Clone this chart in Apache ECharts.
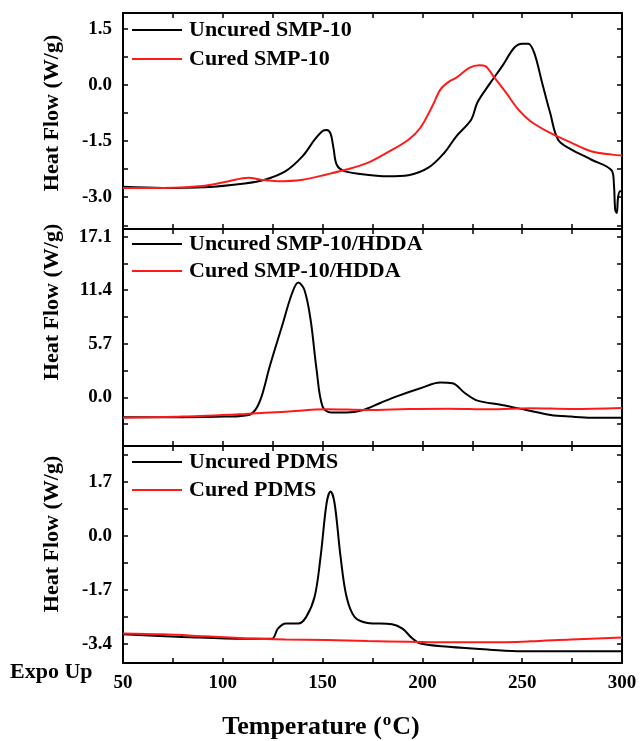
<!DOCTYPE html>
<html>
<head>
<meta charset="utf-8">
<script src="https://cdn.jsdelivr.net/npm/echarts@6/dist/echarts.min.js"></script>
<style>
  html, body { margin: 0; padding: 0; background: #fff; }
  #chart { width: 640px; height: 741px; }
</style>
</head>
<body>
<div id="chart"></div>
<script>
// DSC curves, [temperature (C), heat flow (W/g)]
var uncuredSmp = [[50,-2.72],[70,-2.75],[91,-2.73],[111,-2.63],[121,-2.53],[131.5,-2.3],[140,-1.9],[146,-1.46],[150,-1.23],[152,-1.2],[154,-1.3],[155.5,-1.7],[157,-2.12],[160,-2.28],[168,-2.37],[183,-2.44],[193,-2.41],[203,-2.21],[211,-1.81],[217,-1.37],[224.5,-0.92],[227.5,-0.47],[233.5,0.02],[240,0.51],[246,1.0],[250,1.11],[253,1.11],[256,0.87],[260,0.06],[264,-0.74],[268,-1.46],[274.5,-1.72],[284.5,-1.99],[295,-2.3],[296,-2.7],[296.6,-3.33],[297.4,-3.42],[298,-3.02],[299,-2.84],[300,-2.84]];
var curedSmp = [[50,-2.75],[70,-2.75],[91,-2.69],[103,-2.57],[113,-2.48],[119,-2.53],[127.5,-2.57],[140,-2.53],[152,-2.39],[162,-2.26],[172.5,-2.08],[182.5,-1.8],[193,-1.46],[199,-1.14],[205,-0.56],[209,-0.12],[213,0.08],[217,0.2],[223.5,0.46],[228.5,0.53],[231.5,0.51],[235.5,0.24],[242,-0.21],[248,-0.65],[254,-0.96],[264,-1.28],[274.5,-1.54],[284.5,-1.77],[295,-1.86],[300,-1.88]];

var uncuredHdda = [[50,-2.13],[80,-2.13],[101,-2.06],[113,-1.88],[116.3,-1.35],[119.4,0.07],[123.5,3.27],[129.6,7.53],[134.7,11.08],[137.8,12.22],[140.9,11.43],[144,8.24],[147,2.91],[150,-0.99],[154.3,-1.63],[162,-1.63],[170.4,-1.35],[178.6,-0.64],[186.8,0.07],[199,0.96],[209,1.56],[215,1.49],[221.4,0.43],[227.6,-0.36],[239.8,-0.82],[252,-1.35],[264.3,-1.88],[274.5,-2.06],[284.7,-2.17],[300,-2.17]];
var curedHdda = [[50,-2.17],[80,-2.06],[111,-1.78],[131.6,-1.53],[152,-1.28],[172.5,-1.35],[193,-1.24],[213,-1.21],[233.7,-1.28],[254,-1.17],[274.5,-1.24],[300,-1.14]];

var uncuredPdms = [[50,-3.1],[80,-3.18],[111,-3.24],[124.5,-3.24],[127.6,-2.92],[131.6,-2.76],[137.8,-2.76],[141.8,-2.55],[146,-1.92],[149,-0.66],[152,1.02],[154,1.39],[156,1.02],[159,-0.66],[162,-1.92],[166,-2.55],[172.5,-2.74],[184.8,-2.78],[190,-2.92],[195,-3.23],[199,-3.39],[213,-3.49],[233.7,-3.58],[250,-3.63],[300,-3.63]];
var curedPdms = [[50,-3.07],[70,-3.1],[91,-3.16],[111,-3.22],[131.6,-3.26],[152,-3.28],[172.5,-3.31],[193,-3.33],[213,-3.35],[233.7,-3.35],[254,-3.32],[274.5,-3.26],[300,-3.2]];

var xLabels = [50, 100, 150, 200, 250, 300];
var xTicks = [50, 75, 100, 125, 150, 175, 200, 225, 250, 275, 300];

var yLabelsTop = [-3.0, -1.5, 0.0, 1.5];
var yTicksTop = [-3.75, -3.0, -2.25, -1.5, -0.75, 0, 0.75, 1.5];
var yLabelsMid = [0.0, 5.7, 11.4, 17.1];
var yTicksMid = [-2.85, 0, 2.85, 5.7, 8.55, 11.4, 14.25, 17.1];
var yLabelsBot = [-3.4, -1.7, 0.0, 1.7];
var yTicksBot = [-3.4, -2.55, -1.7, -0.85, 0, 0.85, 1.7, 2.55];

var legendNames = [
  ['Uncured SMP-10', 'Cured SMP-10'],
  ['Uncured SMP-10/HDDA', 'Cured SMP-10/HDDA'],
  ['Uncured PDMS', 'Cured PDMS']
];

var serif = '"Liberation Serif", "Times New Roman", serif';
var chart = echarts.init(document.getElementById('chart'));

var panels = [
  { top: 13, height: 216, min: -3.85, max: 1.93, labels: yLabelsTop, ticks: yTicksTop, data: [uncuredSmp, curedSmp], legendTop: 19, gap: 7, titleY: 113 },
  { top: 229, height: 217, min: -5.19, max: 17.92, labels: yLabelsMid, ticks: yTicksMid, data: [uncuredHdda, curedHdda], legendTop: 233, gap: 5, titleY: 302 },
  { top: 446, height: 217, min: -4.0, max: 2.82, labels: yLabelsBot, ticks: yTicksBot, data: [uncuredPdms, curedPdms], legendTop: 451, gap: 6, titleY: 534 }
];

var axisLine = { onZero: false, lineStyle: { color: '#000', width: 2 } };
var tick = function (vals) {
  return { inside: true, length: 5, customValues: vals, lineStyle: { color: '#000', width: 1.5 } };
};
var labelStyle = { color: '#000', fontFamily: serif, fontWeight: 'bold', fontSize: 19 };

var grid = [], xAxis = [], yAxis = [], series = [], legend = [], graphic = [];

panels.forEach(function (p, i) {
  grid.push({ left: 123, right: 18, top: p.top, height: p.height });

  // bottom and top x axes
  xAxis.push({
    type: 'value', gridIndex: i, min: 50, max: 300, position: 'bottom',
    axisLine: axisLine, axisTick: tick(xTicks), splitLine: { show: false },
    axisLabel: Object.assign({ show: i === 2, customValues: xLabels, margin: 11 }, labelStyle)
  });
  xAxis.push({
    type: 'value', gridIndex: i, min: 50, max: 300, position: 'top',
    axisLine: axisLine, axisTick: tick(xTicks), axisLabel: { show: false }, splitLine: { show: false }
  });

  // left and right y axes
  yAxis.push({
    type: 'value', gridIndex: i, min: p.min, max: p.max, position: 'left',
    axisLine: axisLine, axisTick: tick(p.ticks), splitLine: { show: false },
    axisLabel: Object.assign({
      customValues: p.labels, margin: 11,
      formatter: function (v) { return v.toFixed(1); }
    }, labelStyle)
  });
  yAxis.push({
    type: 'value', gridIndex: i, min: p.min, max: p.max, position: 'right',
    axisLine: axisLine, axisTick: tick(p.ticks), axisLabel: { show: false }, splitLine: { show: false }
  });

  series.push({
    name: legendNames[i][0], type: 'line', xAxisIndex: i * 2, yAxisIndex: i * 2,
    data: p.data[0], symbol: 'none', smooth: 0.35,
    lineStyle: { color: '#000', width: 2 }, itemStyle: { color: '#000' }
  });
  series.push({
    name: legendNames[i][1], type: 'line', xAxisIndex: i * 2, yAxisIndex: i * 2,
    data: p.data[1], symbol: 'none', smooth: 0.35,
    lineStyle: { color: '#ff1a1a', width: 2 }, itemStyle: { color: '#ff1a1a' }
  });

  legend.push({
    data: legendNames[i], orient: 'vertical', left: 132, top: p.legendTop,
    padding: 0, itemGap: p.gap, itemWidth: 50, itemHeight: 2, icon: 'rect',
    textStyle: { color: '#000', fontFamily: serif, fontWeight: 'bold', fontSize: 22, padding: [0, 0, 0, 2] }
  });

  graphic.push({
    type: 'text', x: 52, y: p.titleY, rotation: Math.PI / 2,
    style: {
      text: 'Heat Flow (W/g)', fill: '#000', font: 'bold 22px ' + serif,
      textAlign: 'center', textVerticalAlign: 'middle'
    }
  });
});

graphic.push({
  type: 'text', left: 10, top: 661,
  style: { text: 'Expo Up', fill: '#000', font: 'bold 22px ' + serif }
});

graphic.push({
  type: 'text', x: 321, y: 727,
  style: {
    text: 'Temperature ({sup|o}C)', fill: '#000', font: 'bold 26px ' + serif,
    textAlign: 'center', textVerticalAlign: 'middle',
    rich: { sup: { fill: '#000', font: 'bold 17px ' + serif, verticalAlign: 'top', padding: [0, 1, 12, 1] } }
  }
});

var option = {
  animation: false,
  grid: grid,
  xAxis: xAxis,
  yAxis: yAxis,
  legend: legend,
  graphic: graphic,
  series: series
};

chart.setOption(option);
</script>
</body>
</html>
